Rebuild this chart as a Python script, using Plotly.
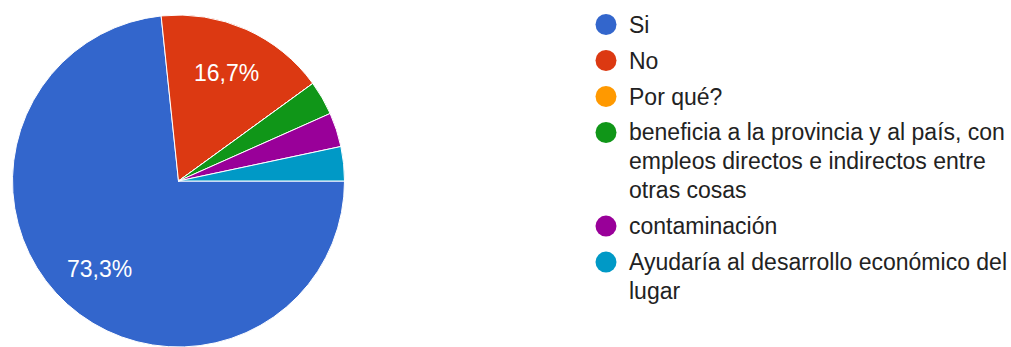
import math
import plotly.graph_objects as go

# Survey answers and response counts (30 responses)
labels = [
    "Si",
    "No",
    "Por qué?",
    "beneficia a la provincia y al país, con<br>empleos directos e indirectos entre<br>otras cosas",
    "contaminación",
    "Ayudaría al desarrollo económico del<br>lugar",
]
counts = [22, 5, 0, 1, 1, 1]
colors = ["#3366cc", "#dc3912", "#ff9900", "#109618", "#990099", "#0099c6"]

W, H = 1011, 347
CX, CY, R = 178.5, 181.0, 166.0   # pie centre / radius in pixels
START_DEG = 90                     # first slice starts at 3 o'clock
FONT = "Arial, Liberation Sans, sans-serif"

total = sum(counts)
pct = [c / total * 100 for c in counts]


def fmt(p):
    return f"{p:.1f}".replace(".", ",") + "%"


fig = go.Figure()
fig.add_trace(go.Pie(
    labels=[l.replace("<br>", " ") for l in labels],
    values=counts,
    sort=False,
    direction="clockwise",
    rotation=START_DEG,
    marker=dict(colors=colors, line=dict(color="white", width=1)),
    textinfo="none",
    hoverinfo="label+percent",
    showlegend=False,
    domain=dict(x=[(CX - R) / W, (CX + R) / W], y=[1 - (CY + R) / H, 1 - (CY - R) / H]),
))

annotations = []
# Percentage labels on slices large enough to hold them
acc = 0.0
for p in pct:
    mid = math.radians(START_DEG + (acc + p / 2) * 3.6)
    acc += p
    if p < 10:
        continue
    px = CX + 0.71 * R * math.sin(mid)
    py = CY - 0.71 * R * math.cos(mid)
    annotations.append(dict(
        x=px / W, y=1 - py / H, xref="paper", yref="paper",
        text=fmt(p), showarrow=False,
        font=dict(family=FONT, size=23, color="white"),
        xanchor="center", yanchor="middle",
    ))

# Legend: coloured circles with (wrapped) answer text, one annotation per line
shapes = []
LEG_DOT_X, LEG_TEXT_X = 606, 627
ROW0, ROW_STEP, LINE_H = 24.5, 36.0, 28.8
DOT_R = 10.5
y = ROW0
for lab, col in zip(labels, colors):
    lines = lab.split("<br>")
    shapes.append(dict(
        type="circle", xref="paper", yref="paper",
        x0=(LEG_DOT_X - DOT_R) / W, x1=(LEG_DOT_X + DOT_R) / W,
        y0=1 - (y + DOT_R) / H, y1=1 - (y - DOT_R) / H,
        fillcolor=col, line=dict(width=0),
    ))
    for k, line in enumerate(lines):
        annotations.append(dict(
            x=LEG_TEXT_X / W, y=1 - (y + k * LINE_H) / H,
            xref="paper", yref="paper", text=line, showarrow=False,
            align="left", xanchor="left", yanchor="middle",
            font=dict(family=FONT, size=23, color="#222222"),
        ))
    y += ROW_STEP + (len(lines) - 1) * LINE_H

fig.update_layout(
    width=W, height=H,
    margin=dict(l=0, r=0, t=0, b=0),
    paper_bgcolor="white", plot_bgcolor="white",
    shapes=shapes, annotations=annotations,
)

fig.write_html("out.html")
